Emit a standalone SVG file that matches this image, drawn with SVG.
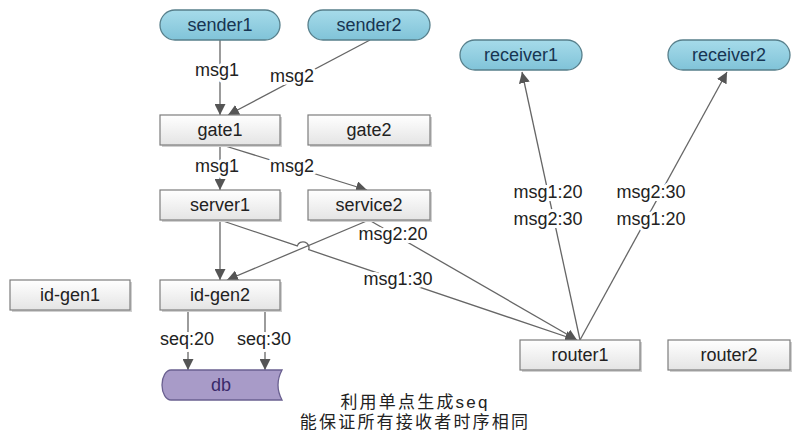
<svg xmlns="http://www.w3.org/2000/svg" width="800" height="440" viewBox="0 0 800 440">
<defs>
  <linearGradient id="boxg" x1="0" y1="0" x2="0" y2="1">
    <stop offset="0" stop-color="#ffffff"/>
    <stop offset="1" stop-color="#e4e4e4"/>
  </linearGradient>
  <linearGradient id="pillg" x1="0" y1="0" x2="0" y2="1">
    <stop offset="0" stop-color="#a6dbea"/>
    <stop offset="1" stop-color="#80c3d8"/>
  </linearGradient>
  <marker id="arr" markerUnits="userSpaceOnUse" markerWidth="12" markerHeight="11" refX="11" refY="5.5" orient="auto" viewBox="0 0 12 11">
    <path d="M0,0 L11,5.5 L0,11 Z" fill="#555"/>
  </marker>
</defs>
<style>
  .box { fill: url(#boxg); stroke: #7d7d7d; stroke-width: 1.2; }
  .shadow { fill: #d0d0d0; }
  .pill { fill: url(#pillg); stroke: #577f8b; stroke-width: 1.3; }
  .t { font-family: "Liberation Sans", Arial, sans-serif; font-size: 18px; text-anchor: middle; fill: #222; }
  .pt { fill: #173552; }
  .lbl { font-family: "Liberation Sans", Arial, sans-serif; font-size: 18px; text-anchor: middle; fill: #222; stroke: #fff; stroke-width: 6; stroke-linejoin: round; paint-order: stroke; }
  .edge { fill: none; stroke: #666; stroke-width: 1.3; }
  .cjk { font-family: "Liberation Sans", "Noto Sans CJK SC", sans-serif; font-size: 17px; letter-spacing: 2.2px; text-anchor: middle; fill: #222; }
</style>
<rect width="800" height="440" fill="#fff"/>

<g id="connectors">
  <line class="edge" x1="220" y1="40" x2="220" y2="115" marker-end="url(#arr)"/>
  <line class="edge" x1="370" y1="40" x2="228" y2="115" marker-end="url(#arr)"/>
  <line class="edge" x1="220" y1="145" x2="220" y2="190" marker-end="url(#arr)"/>
  <line class="edge" x1="222" y1="145" x2="367" y2="190" marker-end="url(#arr)"/>
  <line class="edge" x1="220" y1="220" x2="220" y2="280" marker-end="url(#arr)"/>
  <line class="edge" x1="369" y1="220" x2="227" y2="280" marker-end="url(#arr)"/>
  <path class="edge" d="M220,220 L297.3,245.9 A6,6 0 0 1 308.7,249.7 L576,340" marker-end="url(#arr)"/>
  <line class="edge" x1="369" y1="220" x2="577" y2="340" marker-end="url(#arr)"/>
  <line class="edge" x1="580" y1="340" x2="522" y2="72" marker-end="url(#arr)"/>
  <line class="edge" x1="580" y1="340" x2="727" y2="72" marker-end="url(#arr)"/>
  <line class="edge" x1="188" y1="310" x2="188" y2="370" marker-end="url(#arr)"/>
  <line class="edge" x1="265" y1="310" x2="265" y2="370" marker-end="url(#arr)"/>
  <text class="lbl" x="217" y="76">msg1</text>
  <text class="lbl" x="292" y="82">msg2</text>
  <text class="lbl" x="217" y="172">msg1</text>
  <text class="lbl" x="292" y="172">msg2</text>
  <text class="lbl" x="393" y="240">msg2:20</text>
  <text class="lbl" x="398" y="285">msg1:30</text>
  <text class="lbl" x="187" y="345">seq:20</text>
  <text class="lbl" x="264" y="345">seq:30</text>
  <text class="lbl" x="548" y="198">msg1:20</text>
  <text class="lbl" x="548" y="225">msg2:30</text>
  <text class="lbl" x="651" y="198">msg2:30</text>
  <text class="lbl" x="651" y="225">msg1:20</text>
</g>

<g id="sender1"><rect class="pill" x="160" y="10" width="120" height="30" rx="15"/><text class="t pt" x="220" y="31">sender1</text></g>
<g id="sender2"><rect class="pill" x="308" y="10" width="122" height="30" rx="15"/><text class="t pt" x="369" y="31">sender2</text></g>
<g id="receiver1"><rect class="pill" x="460" y="40" width="122" height="30" rx="15"/><text class="t pt" x="521" y="61">receiver1</text></g>
<g id="receiver2"><rect class="pill" x="668" y="40" width="122" height="30" rx="15"/><text class="t pt" x="729" y="61">receiver2</text></g>

<g id="gate1"><rect class="shadow" x="162" y="117" width="120" height="30"/><rect class="box" x="160" y="115" width="120" height="30"/><text class="t" x="220" y="136">gate1</text></g>
<g id="gate2"><rect class="shadow" x="310" y="117" width="122" height="30"/><rect class="box" x="308" y="115" width="122" height="30"/><text class="t" x="369" y="136">gate2</text></g>
<g id="server1"><rect class="shadow" x="162" y="192" width="120" height="30"/><rect class="box" x="160" y="190" width="120" height="30"/><text class="t" x="220" y="211">server1</text></g>
<g id="service2"><rect class="shadow" x="310" y="192" width="122" height="30"/><rect class="box" x="308" y="190" width="122" height="30"/><text class="t" x="369" y="211">service2</text></g>
<g id="id-gen1"><rect class="shadow" x="12" y="282" width="120" height="30"/><rect class="box" x="10" y="280" width="120" height="30"/><text class="t" x="70" y="301">id-gen1</text></g>
<g id="id-gen2"><rect class="shadow" x="162" y="282" width="120" height="30"/><rect class="box" x="160" y="280" width="120" height="30"/><text class="t" x="220" y="301">id-gen2</text></g>
<g id="router1"><rect class="shadow" x="522" y="342" width="120" height="30"/><rect class="box" x="520" y="340" width="120" height="30"/><text class="t" x="580" y="361">router1</text></g>
<g id="router2"><rect class="shadow" x="670" y="342" width="122" height="30"/><rect class="box" x="668" y="340" width="122" height="30"/><text class="t" x="729" y="361">router2</text></g>

<g id="db">
  <path d="M171,370 H282 Q274,385 282,400 H171 A9,15 0 0 1 171,370 Z" fill="#a89bc8" stroke="#6a6090" stroke-width="1.3"/>
  <text class="t" x="221" y="391" style="fill:#3a2a6a">db</text>
</g>

<g id="caption">
  <text class="cjk" x="415" y="408">利用单点生成seq</text>
  <text class="cjk" x="415" y="428">能保证所有接收者时序相同</text>
</g>
</svg>
